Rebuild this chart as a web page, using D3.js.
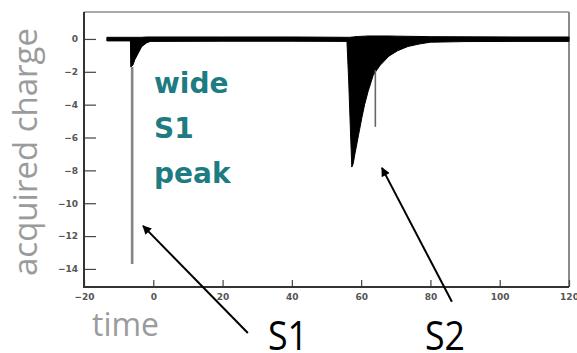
<!DOCTYPE html>
<html>
<head>
<meta charset="utf-8">
<script src="https://cdn.jsdelivr.net/npm/d3@7/dist/d3.min.js"></script>
<style>
  html, body { margin: 0; padding: 0; background: #fff; }
  svg { display: block; }
</style>
</head>
<body>
<script>
// Waveform envelope: time, lower and upper edge of the recorded charge
const traceTime = [-13.4, -6.6, -6.5, -5.9, -5.3, -4.3, -3.35, -2.0, -0.9, 20, 40, 55.9, 56.4, 56.9, 57.3, 57.7, 58.2, 59.2, 60.2, 61.0, 62.0, 63.5, 65.5, 68.0, 70.5, 73.5, 77.0, 80.0, 90, 105, 120];
const traceLow  = [-0.12, -0.12, -1.7, -1.6, -1.25, -0.85, -0.47, -0.25, -0.15, -0.14, -0.14, -0.15, -2.5, -5.5, -7.8, -7.6, -7.0, -5.9, -4.8, -4.0, -3.2, -2.2, -1.6, -1.05, -0.72, -0.46, -0.3, -0.2, -0.16, -0.15, -0.15];
const traceHigh = [0.1, 0.1, 0.1, 0.1, 0.1, 0.1, 0.1, 0.12, 0.12, 0.12, 0.12, 0.1, 0.1, 0.1, 0.12, 0.12, 0.14, 0.15, 0.16, 0.17, 0.18, 0.18, 0.18, 0.18, 0.17, 0.16, 0.15, 0.14, 0.13, 0.12, 0.12];

// Single narrow spikes drawn as thin grey strokes: [time, top, bottom]
const spikeTime   = [-6.1, 64.1];
const spikeTop    = [-1.7, -1.9];
const spikeBottom = [-13.7, -5.35];

// Axis ticks
const xTicks = [-20, 0, 20, 40, 60, 80, 100, 120];
const yTicks = [-14, -12, -10, -8, -6, -4, -2, 0];

// Peak annotations: arrow tip and tail in data units, label text
const arrowNames = ["S1", "S2"];
const arrowTipT  = [-2.97, 66.0];
const arrowTipV  = [-11.38, -7.85];
const arrowTailT = [27.3, 86.2];
const arrowTailV = [-17.9, -16.0];

const W = 577, H = 353;
const plotL = 84, plotR = 569, plotT = 12, plotB = 287;

const x = d3.scaleLinear().domain([-20, 120]).range([plotL, plotR]);
const y = d3.scaleLinear().domain([-15.1, 1.64]).range([plotB, plotT]);

const svg = d3.select("body").append("svg").attr("width", W).attr("height", H);

svg.append("defs").append("marker")
  .attr("id", "head").attr("viewBox", "0 0 10 10")
  .attr("refX", 9).attr("refY", 5)
  .attr("markerWidth", 11).attr("markerHeight", 9)
  .attr("markerUnits", "userSpaceOnUse")
  .attr("orient", "auto")
  .append("path").attr("d", "M0,0 L10,5 L0,10 Z").attr("fill", "#000");

// Frame (top and right in light grey)
svg.append("line").attr("x1", plotL).attr("x2", plotR).attr("y1", plotT).attr("y2", plotT)
  .attr("stroke", "#aaa").attr("stroke-width", 2);
svg.append("line").attr("x1", plotR).attr("x2", plotR).attr("y1", plotT).attr("y2", plotB)
  .attr("stroke", "#8a8a8a").attr("stroke-width", 2);

// Trace envelope
const idx = d3.range(traceTime.length);
svg.append("path")
  .datum(idx)
  .attr("fill", "#000")
  .attr("stroke", "#000").attr("stroke-width", 1)
  .attr("d", d3.area()
    .x(i => x(traceTime[i]))
    .y0(i => y(traceLow[i]))
    .y1(i => y(traceHigh[i])));

svg.selectAll("line.spike").data(d3.range(spikeTime.length)).join("line")
  .attr("class", "spike")
  .attr("x1", i => x(spikeTime[i])).attr("x2", i => x(spikeTime[i]))
  .attr("y1", i => y(spikeTop[i])).attr("y2", i => y(spikeBottom[i]))
  .attr("stroke", (d, i) => i === 0 ? "#858585" : "#666")
  .attr("stroke-width", (d, i) => i === 0 ? 2.6 : 1.6);

// Axes
const tickFont = g => g.selectAll("text")
  .attr("font-family", "DejaVu Sans").attr("font-weight", "bold")
  .attr("font-size", 9).attr("fill", "#555");

const gx = svg.append("g").attr("transform", `translate(0,${plotB})`);
gx.call(d3.axisBottom(x).tickValues(d3.range(-20, 121, 5)).tickSize(-4).tickFormat(""));
gx.call(d3.axisBottom(x).tickValues(xTicks).tickSize(-7).tickPadding(7).tickFormat(d3.format("d")));
gx.call(tickFont);
gx.selectAll(".domain").remove();

const gy = svg.append("g").attr("transform", `translate(${plotL},0)`);
gy.call(d3.axisLeft(y).tickValues(d3.range(-15, 1.6, 0.5)).tickSize(-6).tickFormat(""));
gy.call(d3.axisLeft(y).tickValues(yTicks).tickSize(-12).tickPadding(6).tickFormat(d3.format("d")));
gy.call(tickFont);
gy.selectAll(".domain").remove();
svg.selectAll(".tick line").attr("stroke", "#444").attr("stroke-width", 1.2);

svg.append("line").attr("x1", plotL).attr("x2", plotL).attr("y1", plotT).attr("y2", plotB + 1)
  .attr("stroke", "#333").attr("stroke-width", 2);
svg.append("line").attr("x1", plotL).attr("x2", plotR).attr("y1", plotB).attr("y2", plotB)
  .attr("stroke", "#333").attr("stroke-width", 2);

// Axis titles
svg.append("text")
  .attr("transform", "translate(37,152) rotate(-90)")
  .attr("text-anchor", "middle")
  .attr("font-family", "Open Sans").attr("font-size", 33).attr("fill", "#9b9b9b")
  .text("acquired charge");
svg.append("text")
  .attr("x", 92).attr("y", 336)
  .attr("font-family", "Open Sans").attr("font-size", 32).attr("fill", "#9b9b9b")
  .text("time");

// In-plot note
const note = ["wide", "S1", "peak"];
svg.selectAll("text.note").data(note).join("text")
  .attr("class", "note")
  .attr("x", 154).attr("y", (d, i) => 93 + i * 45)
  .attr("font-family", "DejaVu Sans").attr("font-weight", "bold")
  .attr("font-size", 28).attr("fill", "#1e7b82")
  .text(d => d);

// Arrows and peak labels
svg.selectAll("line.arrow").data(d3.range(arrowNames.length)).join("line")
  .attr("class", "arrow")
  .attr("x1", i => x(arrowTailT[i])).attr("y1", i => y(arrowTailV[i]))
  .attr("x2", i => x(arrowTipT[i])).attr("y2", i => y(arrowTipV[i]))
  .attr("stroke", "#000").attr("stroke-width", 2)
  .attr("marker-end", "url(#head)");

svg.selectAll("text.peak").data(arrowNames).join("text")
  .attr("class", "peak")
  .attr("x", (d, i) => [268, 425][i]).attr("y", 350)
  .attr("font-family", "Open Sans").attr("font-size", 40).attr("fill", "#000")
  .attr("textLength", 40).attr("lengthAdjust", "spacingAndGlyphs")
  .text(d => d);
</script>
</body>
</html>
